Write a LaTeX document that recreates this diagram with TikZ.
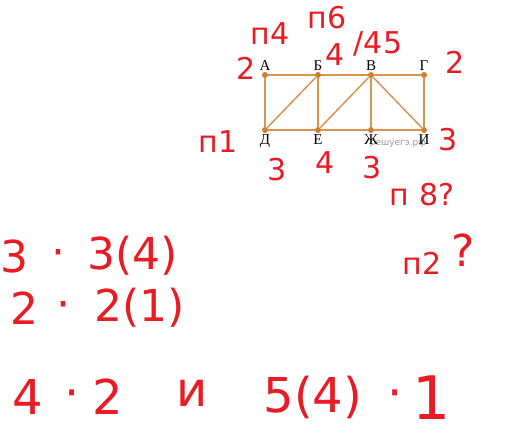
\documentclass[tikz,border=0pt]{standalone}
\usepackage{fontspec}
\setmainfont{Liberation Serif}
\newfontfamily\handfont{DejaVu Sans}
\definecolor{edgeorange}{RGB}{214,150,80}
\definecolor{dotorange}{RGB}{206,126,44}
\definecolor{inkred}{RGB}{232,28,36}
\tikzset{
  vert/.style={circle,fill=dotorange,inner sep=0pt,minimum size=6pt},
  lbl/.style={font=\fontsize{15}{15}\selectfont,inner sep=1pt},
  rib/.style={edgeorange,line width=1.5pt},
  wmark/.style={text=black!40,font=\handfont\fontsize{9}{9}\selectfont,inner sep=0pt},
  ink/.style={text=inkred,font=\handfont\fontsize{#1}{#1}\selectfont,inner sep=0pt},
  ink/.default=30
}
\begin{document}
\begin{tikzpicture}[x=1pt,y=-1pt]
\useasboundingbox[fill=white] (0,0) rectangle (511,434);
\node[wmark] (wm) at (398,143) {решуегэ.рф};
\node[vert,label={[lbl]above:А}] (A) at (265,75) {};
\node[vert,label={[lbl]above:Б}] (B) at (318,75) {};
\node[vert,label={[lbl]above:В}] (V) at (371,75) {};
\node[vert,label={[lbl]above:Г}] (G) at (424,75) {};
\node[vert,label={[lbl]below:Д}] (D) at (265,130) {};
\node[vert,label={[lbl]below:Е}] (E) at (318,130) {};
\node[vert,label={[lbl]below:Ж}] (Zh) at (371,130) {};
\node[vert,label={[lbl]below:И}] (I) at (424,130) {};
\foreach \a/\b in {A/B,B/V,V/G,D/E,E/Zh,Zh/I,A/D,B/E,V/Zh,G/I,D/B,E/V,V/I}
  \draw[rib] (\a) -- (\b);
\node[ink] (pA) at (270,34) {п4};
\node[ink] (pB) at (327,18) {п6};
\node[ink] (nB) at (335,55) {4};
\node[ink] (pV) at (378,44) {/45};
\node[ink] (nA) at (246,68) {2};
\node[ink] (nG) at (455,62) {2};
\node[ink] (pD) at (218,142) {п1};
\node[ink] (nD) at (277,170) {3};
\node[ink] (nE) at (325,163) {4};
\node[ink] (nZh) at (372,168) {3};
\node[ink] (nI) at (448,140) {3};
\node[ink] (pI) at (422,195) {п 8?};
\node[ink] (pG) at (422,263) {п2};
\node[ink=44] (qG) at (463,250) {?};
\node[ink=44] (r1a) at (14,256) {3};
\node[ink=44] (r1b) at (58,258) {·};
\node[ink=44] (r1c) at (133,256) {3(4)};
\node[ink=44] (r2a) at (24,308) {2};
\node[ink=44] (r2b) at (63,310) {·};
\node[ink=44] (r2c) at (140,308) {2(1)};
\node[ink=48] (r3a) at (28,397) {4};
\node[ink=48] (r3b) at (72,400) {·};
\node[ink=48] (r3c) at (108,397) {2};
\node[ink=48] (r3d) at (192,393) {и};
\node[ink=48] (r3e) at (313,397) {5(4)};
\node[ink=48] (r3f) at (395,400) {·};
\node[ink=60] (r3g) at (432,398) {1};
\end{tikzpicture}
\end{document}
